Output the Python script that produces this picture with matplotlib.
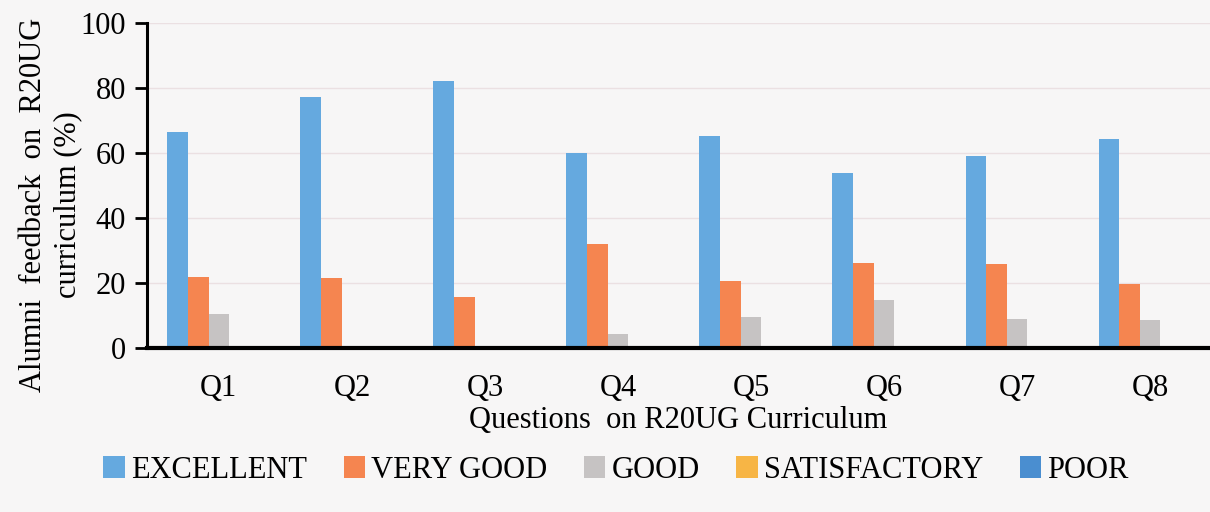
import numpy as np
import matplotlib.pyplot as plt

plt.rcParams['font.family'] = ['Liberation Serif', 'DejaVu Serif']

# data
questions = ['Q1', 'Q2', 'Q3', 'Q4', 'Q5', 'Q6', 'Q7', 'Q8']
excellent = [66.5, 77.3, 82.2, 60.1, 65.2, 53.9, 59.2, 64.4]
very_good = [21.8, 21.5, 15.8, 32.0, 20.6, 26.1, 25.8, 19.8]
good = [10.5, 0, 0, 4.3, 9.4, 14.8, 8.9, 8.6]
satisfactory = [0, 0, 0, 0, 0, 0, 0, 0]
poor = [0, 0, 0, 0, 0, 0, 0, 0]

series = [
    ('EXCELLENT', excellent, '#65A9DF'),
    ('VERY GOOD', very_good, '#F58550'),
    ('GOOD', good, '#C6C3C3'),
    ('SATISFACTORY', satisfactory, '#F7B545'),
    ('POOR', poor, '#4A8ED0'),
]

bg = '#f7f6f6'
fig = plt.figure(figsize=(12.1, 5.12), dpi=100, facecolor=bg)
ax = fig.add_axes([147 / 1210, 1 - 348 / 512, 1063 / 1210, 325 / 512])
ax.set_facecolor(bg)

x = np.arange(len(questions))
w = 0.155
for i, (name, vals, col) in enumerate(series):
    ax.bar(x + (i - 2) * w, vals, w, color=col, label=name, zorder=2)

ax.set_xlim(-0.54, 7.45)
ax.set_ylim(0, 100)
ax.set_yticks(range(0, 101, 20))
ax.set_xticks(x)
ax.set_xticklabels(questions)
ax.tick_params(axis='x', length=0, labelsize=22, pad=19)
ax.tick_params(axis='y', length=9, width=2, labelsize=22, pad=6, direction='out')
ax.grid(axis='y', color='#ebe0e2', linewidth=1, zorder=0)

for s in ['top', 'right']:
    ax.spines[s].set_visible(False)
ax.spines['left'].set_linewidth(2.2)
ax.spines['bottom'].set_linewidth(3)

ax.set_xlabel('Questions  on R20UG Curriculum', fontsize=22, labelpad=2)
fig.text(0.042, 1 - 205 / 512, 'Alumni  feedback  on  R20UG\ncurriculum (%)',
         rotation=90, ha='center', va='center', fontsize=22, linespacing=1.25)

fig.legend(loc='center', bbox_to_anchor=(616 / 1210, 1 - 470 / 512), ncol=5,
           frameon=False, fontsize=22, handlelength=0.7, handleheight=0.7,
           handletextpad=0.2, columnspacing=1.2)

fig.savefig('out.png', dpi=100, facecolor=bg)
